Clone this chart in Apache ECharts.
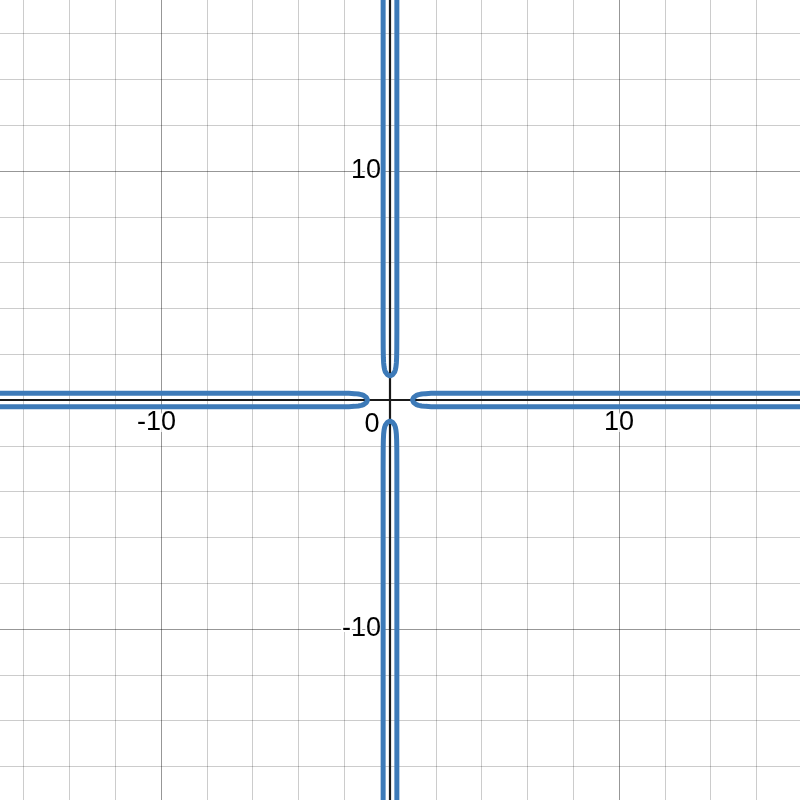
<!DOCTYPE html>
<html>
<head>
<meta charset="utf-8">
<script src="https://cdn.jsdelivr.net/npm/echarts@6/dist/echarts.min.js"></script>
<style>
html,body{margin:0;padding:0;background:#fff;}
#chart{width:800px;height:800px;}
</style>
</head>
<body>
<div id="chart"></div>
<script>
// Axis ranges and tick labels
const xRange = [-20, 20];
const yRange = [-20, 20];
const minorStep = 2;
const majorStep = 10;
const xTickLabels = { '-10': '-10', '0': '0', '10': '10' };
const yTickLabels = { '-10': '-10', '10': '10' };

// Curve branches: hairpins along the axes
const rightX = [20, 6, 3, 2.2, 1.8, 1.55, 1.38, 1.25, 1.15, 1.08, 1.03, 1.0, 0.98, 1.0, 1.03, 1.08, 1.15, 1.25, 1.38, 1.55, 1.8, 2.2, 3, 6, 20];
const rightY = [0.3, 0.3, 0.3, 0.297, 0.29, 0.278, 0.26, 0.235, 0.2, 0.16, 0.11, 0.06, 0, -0.06, -0.11, -0.16, -0.2, -0.235, -0.26, -0.278, -0.29, -0.297, -0.3, -0.3, -0.3];

const leftX = [-20, -6, -3, -2.2, -1.8, -1.55, -1.38, -1.25, -1.15, -1.08, -1.03, -1.0, -0.98, -1.0, -1.03, -1.08, -1.15, -1.25, -1.38, -1.55, -1.8, -2.2, -3, -6, -20];
const leftY = [0.3, 0.3, 0.3, 0.297, 0.29, 0.278, 0.26, 0.235, 0.2, 0.16, 0.11, 0.06, 0, -0.06, -0.11, -0.16, -0.2, -0.235, -0.26, -0.278, -0.29, -0.297, -0.3, -0.3, -0.3];

const topX = [-0.3, -0.3, -0.3, -0.297, -0.29, -0.278, -0.26, -0.235, -0.2, -0.16, -0.11, -0.06, 0, 0.06, 0.11, 0.16, 0.2, 0.235, 0.26, 0.278, 0.29, 0.297, 0.3, 0.3, 0.3];
const topY = [20, 6, 3, 2.27, 1.87, 1.62, 1.45, 1.32, 1.22, 1.15, 1.1, 1.07, 1.05, 1.07, 1.1, 1.15, 1.22, 1.32, 1.45, 1.62, 1.87, 2.27, 3, 6, 20];

const bottomX = [-0.3, -0.3, -0.3, -0.297, -0.29, -0.278, -0.26, -0.235, -0.2, -0.16, -0.11, -0.06, 0, 0.06, 0.11, 0.16, 0.2, 0.235, 0.26, 0.278, 0.29, 0.297, 0.3, 0.3, 0.3];
const bottomY = [-20, -6, -3, -2.14, -1.74, -1.49, -1.32, -1.19, -1.09, -1.02, -0.97, -0.94, -0.92, -0.94, -0.97, -1.02, -1.09, -1.19, -1.32, -1.49, -1.74, -2.14, -3, -6, -20];

function pairs(xs, ys) { return xs.map((x, i) => [x, ys[i]]); }

const scale = 22.9;          // pixels per unit
const originPx = [390, 400]; // origin position on the canvas
const gridLeft = originPx[0] + xRange[0] * scale;
const gridTop = originPx[1] - yRange[1] * scale;
const gridW = (xRange[1] - xRange[0]) * scale;
const gridH = (yRange[1] - yRange[0]) * scale;
// offsets that bring the label axes from the grid edges onto the zero lines
const xLabelOffset = -(gridTop + gridH - originPx[1]);
const yLabelOffset = -(originPx[0] - gridLeft);

const FONT = '"Liberation Sans", Arial, sans-serif';
const labelBase = {
  fontFamily: FONT, fontSize: 27, color: '#000',
  textBorderColor: '#fff', textBorderWidth: 4
};

const chart = echarts.init(document.getElementById('chart'), null, { renderer: 'canvas' });

const curveStyle = { color: '#3d7ab8', width: 5 };
function branch(xs, ys) {
  return {
    type: 'line', data: pairs(xs, ys), showSymbol: false, symbol: 'none',
    lineStyle: curveStyle, itemStyle: { color: curveStyle.color },
    z: 3, silent: true, animation: false
  };
}

const axisLineStyle = { color: '#1a1a1a', width: 2.2 };

chart.setOption({
  backgroundColor: '#fff',
  animation: false,
  grid: {
    left: gridLeft, top: gridTop, width: gridW, height: gridH,
    containLabel: false, outerBoundsMode: 'none'
  },
  xAxis: [
    {
      type: 'value', min: xRange[0], max: xRange[1], interval: minorStep, position: 'bottom',
      axisLine: { show: false, onZero: false }, axisTick: { show: false }, axisLabel: { show: false },
      splitLine: { show: true, lineStyle: { color: 'rgba(0,0,0,0.2)', width: 1 } },
      z: 0
    },
    {
      type: 'value', min: xRange[0], max: xRange[1], interval: majorStep, position: 'bottom',
      axisLine: { show: true, onZero: true, onZeroAxisIndex: 1, lineStyle: axisLineStyle },
      axisTick: { show: false }, axisLabel: { show: false },
      splitLine: { show: true, lineStyle: { color: 'rgba(0,0,0,0.26)', width: 1 } },
      z: 1
    },
    {
      type: 'value', min: xRange[0], max: xRange[1], interval: majorStep, position: 'bottom',
      offset: xLabelOffset,
      axisLine: { show: false, onZero: false }, axisTick: { show: false }, splitLine: { show: false },
      axisLabel: {
        show: true, margin: 9, ...labelBase,
        formatter: function (v) {
          const t = xTickLabels[String(v)];
          if (!t) return '';
          if (v === 0) return '{z|' + t + '}';
          if (v < 0) return '{n|' + t + '}';
          return '{p|' + t + '}';
        },
        rich: {
          z: { ...labelBase, padding: [2, 36, 0, 0] },
          n: { ...labelBase, padding: [0, 9, 0, 0] },
          p: { ...labelBase }
        }
      },
      z: 2
    }
  ],
  yAxis: [
    {
      type: 'value', min: yRange[0], max: yRange[1], interval: minorStep, position: 'left',
      axisLine: { show: false, onZero: false }, axisTick: { show: false }, axisLabel: { show: false },
      splitLine: { show: true, lineStyle: { color: 'rgba(0,0,0,0.2)', width: 1 } },
      z: 0
    },
    {
      type: 'value', min: yRange[0], max: yRange[1], interval: majorStep, position: 'left',
      axisLine: { show: true, onZero: true, onZeroAxisIndex: 1, lineStyle: axisLineStyle },
      axisTick: { show: false }, axisLabel: { show: false },
      splitLine: { show: true, lineStyle: { color: 'rgba(0,0,0,0.26)', width: 1 } },
      z: 1
    },
    {
      type: 'value', min: yRange[0], max: yRange[1], interval: majorStep, position: 'left',
      offset: yLabelOffset,
      axisLine: { show: false, onZero: false }, axisTick: { show: false }, splitLine: { show: false },
      axisLabel: {
        show: true, margin: 9, ...labelBase,
        formatter: function (v) { return yTickLabels[String(v)] || ''; }
      },
      z: 2
    }
  ],
  series: [
    branch(rightX, rightY),
    branch(leftX, leftY),
    branch(topX, topY),
    branch(bottomX, bottomY)
  ]
});
</script>
</body>
</html>
